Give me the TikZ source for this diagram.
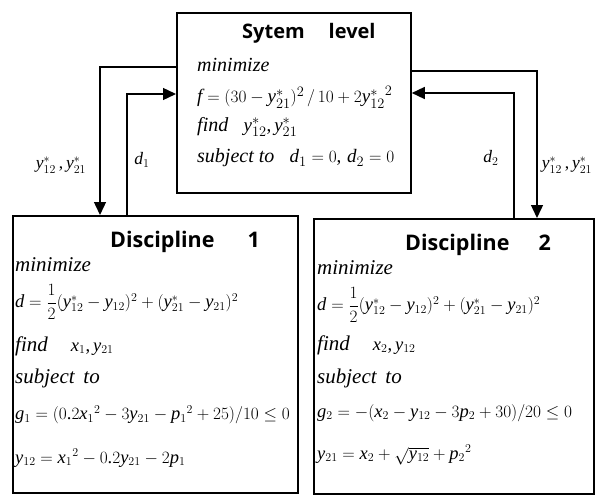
\documentclass[tikz,border=0pt]{standalone}
\usepackage{amsmath}
\usepackage{fontspec}
\setmainfont{Liberation Serif}
\newfontfamily\titlefont{Open Sans}
\DeclareSymbolFont{operators}{TU}{\rmdefault}{m}{n}
\DeclareSymbolFont{letters}{TU}{\rmdefault}{m}{it}
\mathcode`\/="002F
\mathcode`\,="602C
\mathcode`\.="002E
\usetikzlibrary{arrows.meta}
\begin{document}
\begin{tikzpicture}[x=1pt,y=-1pt,
  box/.style={draw,line width=1.8pt,rectangle,inner sep=0pt,anchor=north west},
  conn/.style={line width=1.4pt},
  tip/.style={conn,-{Triangle[length=13pt,width=12pt]}},
  ttl/.style={font=\titlefont\bfseries\fontsize{21.5}{26}\selectfont,anchor=west,inner sep=0pt},
  sttl/.style={font=\titlefont\bfseries\fontsize{20}{24}\selectfont,anchor=west,inner sep=0pt},
  txt/.style={font=\fontsize{18.5}{22}\selectfont,anchor=west,inner sep=0pt},
  stxt/.style={font=\fontsize{19}{22}\selectfont,anchor=west,inner sep=0pt},
  lbl/.style={font=\fontsize{17.5}{21}\selectfont,anchor=center,inner sep=0pt}]
\useasboundingbox (0,0) rectangle (597,495);
\newcommand{\itw}[1]{{\fontsize{21}{24}\selectfont\itshape #1}}
\newcommand{\sitw}[1]{{\fontsize{20}{24}\selectfont\itshape #1}}
% boxes
\node[box,minimum width=234pt,minimum height=180pt] (sys) at (176,12) {};
\node[box,minimum width=285pt,minimum height=277pt] (d1) at (12,215) {};
\node[box,minimum width=280pt,minimum height=275pt] (d2) at (313,218) {};
% system text
\node[sttl] (st) at (242,33) {Sytem\hspace{24pt}level};
\node[stxt] (s1) at (197,65) {\sitw{minimize}};
\node[stxt] (s2) at (197,97) {$f=(30-y^{*}_{21})^2\,/\,10+2{y^{*}_{12}}^2$};
\node[stxt] (s3) at (197,127) {\sitw{find}\;\; $y^{*}_{12},y^{*}_{21}$};
\node[stxt] (s4) at (197,158) {\sitw{subject to}\;\; $d_1=0,\, d_2=0$};
% discipline 1
\node[ttl] (t1) at (110,242) {Discipline\hspace{33pt}1};
\node[txt] (a1) at (15,265) {\itw{minimize}};
\node[txt] (a2) at (15,302) {$d=\dfrac{1}{2}(y^{*}_{12}-y_{12})^2+(y^{*}_{21}-y_{21})^2$};
\node[txt] (a3) at (15,346) {\itw{find}\quad\ $x_1,y_{21}$};
\node[txt] (a4) at (15,378) {\itw{subject\, to}};
\node[txt] (a5) at (15,415) {$g_1=(0.2{x_1}^2-3y_{21}-{p_1}^2+25)/10\le 0$};
\node[txt] (a6) at (15,458) {$y_{12}={x_1}^2-0.2y_{21}-2p_1$};
% discipline 2
\node[ttl] (t2) at (405,245) {Discipline\hspace{29pt}2};
\node[txt] (b1) at (317,268) {\itw{minimize}};
\node[txt] (b2) at (317,305) {$d=\dfrac{1}{2}(y^{*}_{12}-y_{12})^2+(y^{*}_{21}-y_{21})^2$};
\node[txt] (b3) at (317,345) {\itw{find}\quad\ $x_2,y_{12}$};
\node[txt] (b4) at (317,378) {\itw{subject\, to}};
\node[txt] (b5) at (317,413) {$g_2=-(x_2-y_{12}-3p_2+30)/20\le 0$};
\node[txt] (b6) at (317,455) {$y_{21}=x_2+\sqrt{y_{12}}+{p_2}^2$};
% connectors left
\coordinate (L1) at (100,67);
\coordinate (L2) at (127,94);
\draw[tip] (sys.west |- L1) -- (L1) -- (L1 |- d1.north);
\draw[tip] (L2 |- d1.north) -- (L2) -- (sys.west |- L2);
% connectors right
\coordinate (R1) at (537,71);
\coordinate (R2) at (514,93);
\draw[tip] (sys.east |- R1) -- (R1) -- (R1 |- d2.north);
\draw[tip] (R2 |- d2.north) -- (R2) -- (sys.east |- R2);
% labels
\node[lbl] (l1) at (61,165) {$y^{*}_{12}\,,y^{*}_{21}$};
\node[lbl] (l2) at (142,160) {$d_1$};
\node[lbl] (l3) at (491,158) {$d_2$};
\node[lbl] (l4) at (567,165) {$y^{*}_{12}\,,y^{*}_{21}$};
\end{tikzpicture}
\end{document}
